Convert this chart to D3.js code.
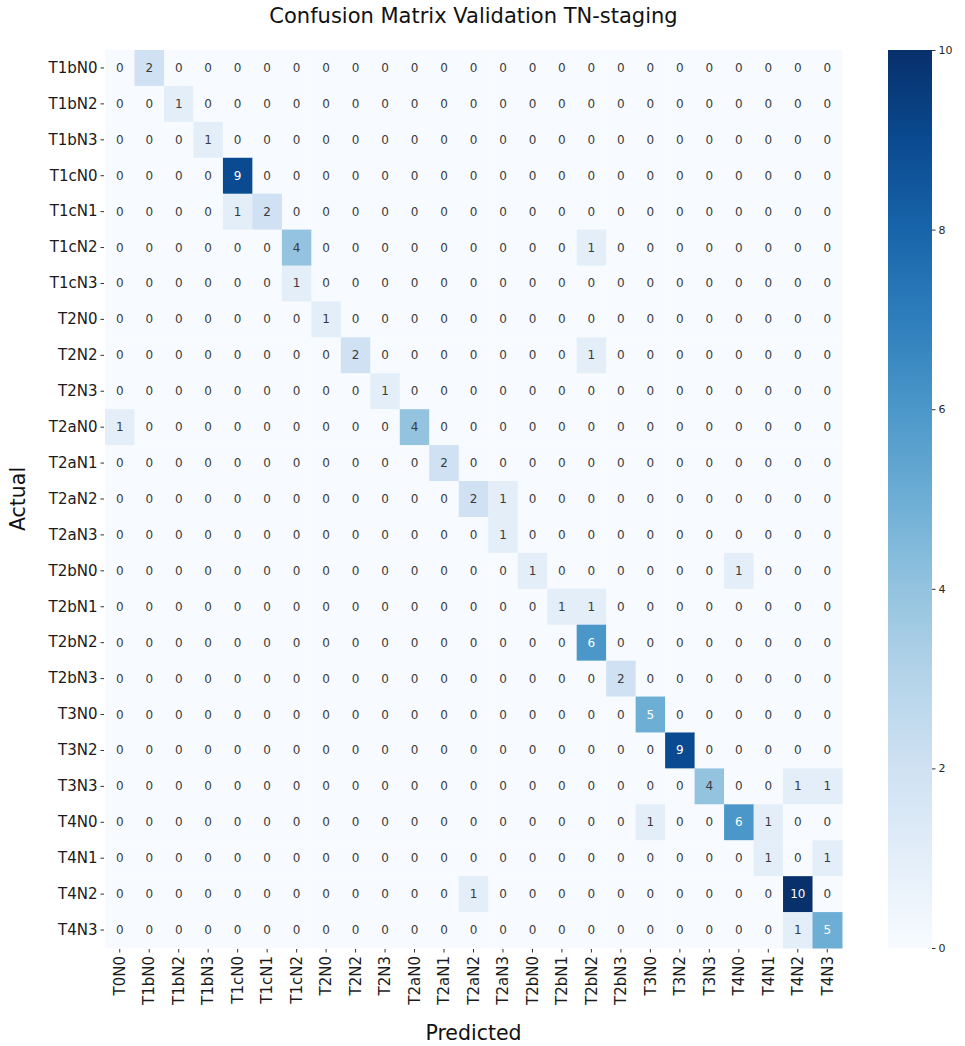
<!DOCTYPE html>
<html>
<head>
<meta charset="utf-8">
<script src="https://cdn.jsdelivr.net/npm/d3@7"></script>
<style>
  body { margin: 0; background: #fff; }
  text { font-family: "DejaVu Sans", sans-serif; }
</style>
</head>
<body>
<div id="viz"></div>
<script>
var actual = ["T1bN0","T1bN2","T1bN3","T1cN0","T1cN1","T1cN2","T1cN3","T2N0","T2N2","T2N3",
  "T2aN0","T2aN1","T2aN2","T2aN3","T2bN0","T2bN1","T2bN2","T2bN3","T3N0","T3N2","T3N3",
  "T4N0","T4N1","T4N2","T4N3"];
var predicted = ["T0N0","T1bN0","T1bN2","T1bN3","T1cN0","T1cN1","T1cN2","T2N0","T2N2","T2N3",
  "T2aN0","T2aN1","T2aN2","T2aN3","T2bN0","T2bN1","T2bN2","T2bN3","T3N0","T3N2","T3N3",
  "T4N0","T4N1","T4N2","T4N3"];

// non-zero counts: [actual, predicted, count]
var counts = [
  ["T1bN0","T1bN0",2],
  ["T1bN2","T1bN2",1],
  ["T1bN3","T1bN3",1],
  ["T1cN0","T1cN0",9],
  ["T1cN1","T1cN0",1], ["T1cN1","T1cN1",2],
  ["T1cN2","T1cN2",4], ["T1cN2","T2bN2",1],
  ["T1cN3","T1cN2",1],
  ["T2N0","T2N0",1],
  ["T2N2","T2N2",2], ["T2N2","T2bN2",1],
  ["T2N3","T2N3",1],
  ["T2aN0","T0N0",1], ["T2aN0","T2aN0",4],
  ["T2aN1","T2aN1",2],
  ["T2aN2","T2aN2",2], ["T2aN2","T2aN3",1],
  ["T2aN3","T2aN3",1],
  ["T2bN0","T2bN0",1], ["T2bN0","T4N0",1],
  ["T2bN1","T2bN1",1], ["T2bN1","T2bN2",1],
  ["T2bN2","T2bN2",6],
  ["T2bN3","T2bN3",2],
  ["T3N0","T3N0",5],
  ["T3N2","T3N2",9],
  ["T3N3","T3N3",4], ["T3N3","T4N2",1], ["T3N3","T4N3",1],
  ["T4N0","T3N0",1], ["T4N0","T4N0",6], ["T4N0","T4N1",1],
  ["T4N1","T4N1",1], ["T4N1","T4N3",1],
  ["T4N2","T2aN2",1], ["T4N2","T4N2",10],
  ["T4N3","T4N2",1], ["T4N3","T4N3",5]
];
var colorTicks = [0, 2, 4, 6, 8, 10];

var W = 965, H = 1046;
var gLeft = 105, gRight = 842, gTop = 50, gBottom = 948;

var lookup = {};
counts.forEach(function(c){ lookup[c[0] + "|" + c[1]] = c[2]; });
var cells = [];
actual.forEach(function(a){
  predicted.forEach(function(p){
    cells.push({ a: a, p: p, v: lookup[a + "|" + p] || 0 });
  });
});

var xScale = d3.scaleBand().domain(predicted).range([gLeft, gRight]);
var yScale = d3.scaleBand().domain(actual).range([gTop, gBottom]);
var color = d3.scaleSequential(d3.interpolateBlues).domain([0, 10]);

var svg = d3.select('#viz').append('svg')
  .attr('width', W)
  .attr('height', H);

svg.append('g').selectAll('rect').data(cells)
  .enter().append('rect')
    .attr('x', function(d){ return xScale(d.p); })
    .attr('y', function(d){ return yScale(d.a); })
    .attr('width', xScale.bandwidth() + 0.5)
    .attr('height', yScale.bandwidth() + 0.5)
    .attr('fill', function(d){ return color(d.v); });

svg.append('g').selectAll('text').data(cells)
  .enter().append('text')
    .attr('x', function(d){ return xScale(d.p) + xScale.bandwidth() / 2; })
    .attr('y', function(d){ return yScale(d.a) + yScale.bandwidth() / 2; })
    .attr('text-anchor', 'middle')
    .attr('dominant-baseline', 'central')
    .style('font-size', '12px')
    .attr('fill', function(d){ return d.v >= 5 ? '#ffffff' : '#3a3a3a'; })
    .text(function(d){ return d.v; });

// axes
var yAxis = d3.axisLeft(yScale).tickSize(3.5).tickPadding(3);
var yGuide = svg.append('g')
  .attr('transform', 'translate(' + (gLeft - 1) + ',0)')
  .call(yAxis);
yGuide.select('.domain').remove();
yGuide.selectAll('text').style('font-size', '15px').attr('fill', '#1a1a1a');
yGuide.selectAll('line').attr('stroke', '#333');

var xAxis = d3.axisBottom(xScale).tickSize(3.5).tickPadding(3);
var xGuide = svg.append('g')
  .attr('transform', 'translate(0,' + (gBottom + 1) + ')')
  .call(xAxis);
xGuide.select('.domain').remove();
xGuide.selectAll('line').attr('stroke', '#333');
xGuide.selectAll('text')
  .style('font-size', '15px')
  .attr('fill', '#1a1a1a')
  .attr('transform', 'rotate(-90)')
  .attr('x', -7)
  .attr('y', 0)
  .attr('dy', '0.35em')
  .attr('text-anchor', 'end');

// colorbar
var cbX = 888, cbW = 44;
var cbScale = d3.scaleLinear().domain([0, 10]).range([gBottom, gTop]);
var defs = svg.append('defs');
var grad = defs.append('linearGradient')
  .attr('id', 'cbgrad')
  .attr('x1', 0).attr('y1', 1).attr('x2', 0).attr('y2', 0);
d3.range(0, 11).forEach(function(i){
  grad.append('stop')
    .attr('offset', (i * 10) + '%')
    .attr('stop-color', color(i));
});
svg.append('rect')
  .attr('x', cbX)
  .attr('y', gTop)
  .attr('width', cbW)
  .attr('height', gBottom - gTop)
  .attr('fill', 'url(#cbgrad)');

var cbAxis = d3.axisRight(cbScale).tickValues(colorTicks).tickSize(3.5).tickPadding(3);
var cbGuide = svg.append('g')
  .attr('transform', 'translate(' + (cbX + cbW) + ',0)')
  .call(cbAxis);
cbGuide.select('.domain').remove();
cbGuide.selectAll('line').attr('stroke', '#333');
cbGuide.selectAll('text').style('font-size', '11px').attr('fill', '#262626');

// titles
svg.append('text')
  .attr('x', (gLeft + gRight) / 2)
  .attr('y', 23)
  .attr('text-anchor', 'middle')
  .style('font-size', '21px')
  .attr('fill', '#111')
  .text('Confusion Matrix Validation TN-staging');

svg.append('text')
  .attr('transform', 'translate(25,' + ((gTop + gBottom) / 2) + ') rotate(-90)')
  .attr('text-anchor', 'middle')
  .style('font-size', '20.5px')
  .attr('fill', '#111')
  .text('Actual');

svg.append('text')
  .attr('x', (gLeft + gRight) / 2)
  .attr('y', 1040)
  .attr('text-anchor', 'middle')
  .style('font-size', '20.5px')
  .attr('fill', '#111')
  .text('Predicted');
</script>
</body>
</html>
